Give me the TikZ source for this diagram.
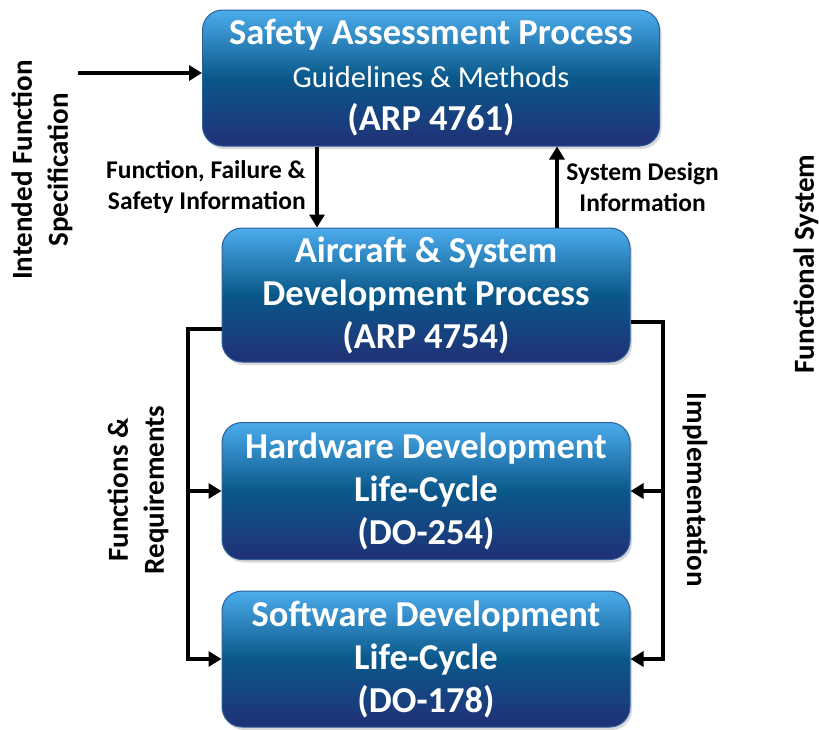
\documentclass[tikz,border=0pt]{standalone}
\usepackage{fontspec}
\setmainfont{Carlito}
\usetikzlibrary{arrows.meta}
\usetikzlibrary{shadows}

\definecolor{boxtop}{RGB}{76,172,236}
\definecolor{boxmid}{RGB}{10,88,138}
\definecolor{boxbot}{RGB}{33,48,118}
\definecolor{boxline}{RGB}{45,95,155}

\begin{document}
\begin{tikzpicture}[x=1pt, y=-1pt,
    process/.style={rectangle, rounded corners=20pt, draw=boxline, line width=1pt,
        top color=boxtop, bottom color=boxbot, middle color=boxmid,
        text=white, align=center, font=\bfseries\fontsize{36.5}{43}\selectfont,
        drop shadow={opacity=0.3, shadow xshift=2pt, shadow yshift=-3pt}},
    flow/.style={line width=4pt, -{Triangle[length=13pt, width=15pt]}},
    note/.style={font=\bfseries\fontsize{25.5}{31}\selectfont},
    side/.style={font=\bfseries\fontsize{29}{36}\selectfont, align=center}]

    \useasboundingbox (0,0) rectangle (819,729);

    % Process boxes
    \node[process, minimum width=457pt, minimum height=136pt] (sap) at (431,78)
        {Safety Assessment Process\\{\mdseries\fontsize{30.5}{41}\selectfont Guidelines \& Methods}\\(ARP 4761)};
    \node[process, minimum width=408pt, minimum height=134pt] (asdp) at (426,295)
        {Aircraft \& System\\Development Process\\(ARP 4754)};
    \node[process, minimum width=408pt, minimum height=137pt] (hw) at (426,491)
        {Hardware Development\\Life-Cycle\\(DO-254)};
    \node[process, minimum width=408pt, minimum height=136pt] (sw) at (426,659)
        {Software Development\\Life-Cycle\\(DO-178)};

    % Side labels
    \node[side, rotate=90] (ifs) at (42,170) {Intended Function\\Specification};
    \node[side, rotate=90] (fsys) at (806,264) {Functional System};
    \node[side, rotate=90] (freq) at (138,490) {Functions \&\\Requirements};
    \node[side, rotate=-90] (impl) at (695,490) {Implementation};

    % Helper points
    \coordinate (src) at (78,73);
    \coordinate (dn) at (317,0);
    \coordinate (up) at (557,0);
    \coordinate (lbus) at (188,329);
    \coordinate (rbus) at (663,322);

    % Arrows between processes
    \draw[flow] (src) -- (src -| sap.west);
    \draw[flow] (sap.south -| dn) -- node[note, left, align=right, xshift=-6pt]
        {Function, Failure \&\\Safety Information} (asdp.north -| dn);
    \draw[flow] (asdp.north -| up) -- node[note, right, align=center, xshift=4pt]
        {System Design\\Information} (sap.south -| up);

    % Buses to the life-cycles
    \draw[flow] (asdp.west |- lbus) -- (lbus) |- (sw.west);
    \draw[flow] (lbus |- hw.west) -- (hw.west);
    \draw[flow] (asdp.east |- rbus) -- (rbus) |- (sw.east);
    \draw[flow] (rbus |- hw.east) -- (hw.east);

\end{tikzpicture}
\end{document}
